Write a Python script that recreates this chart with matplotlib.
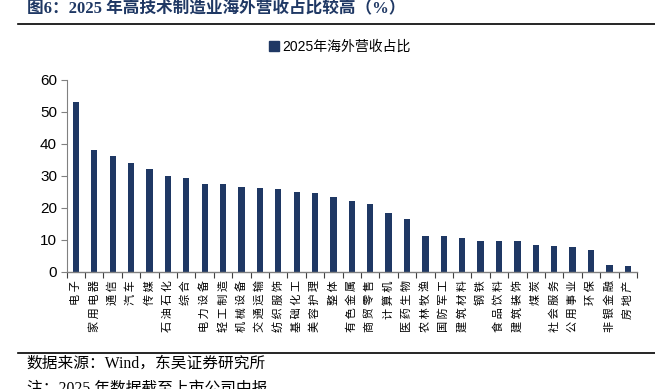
import matplotlib
matplotlib.use('Agg')
import matplotlib.pyplot as plt
from matplotlib.lines import Line2D

plt.rcParams['font.family'] = ['Liberation Sans', 'Noto Sans CJK SC']

# 2025 share of overseas revenue by industry (%)
industries = ['电子', '家用电器', '通信', '汽车', '传媒', '石油石化', '综合', '电力设备',
              '轻工制造', '机械设备', '交通运输', '纺织服饰', '基础化工', '美容护理', '整体',
              '有色金属', '商贸零售', '计算机', '医药生物', '农林牧渔', '国防军工', '建筑材料',
              '钢铁', '食品饮料', '建筑装饰', '煤炭', '社会服务', '公用事业', '环保',
              '非银金融', '房地产']
overseas_share = [53.0, 38.1, 36.4, 34.2, 32.1, 30.0, 29.3, 27.6, 27.5, 26.5, 26.2,
                  25.8, 25.1, 24.6, 23.3, 22.1, 21.1, 18.4, 16.5, 11.4, 11.3, 10.5,
                  9.7, 9.7, 9.6, 8.4, 8.0, 7.7, 6.9, 2.2, 1.8]
y_ticks = [0, 10, 20, 30, 40, 50, 60]

navy = '#1F3864'
cjk_serif = ['Liberation Serif', 'Noto Sans CJK SC']

fig = plt.figure(figsize=(6.55, 3.89), dpi=100)
ax = fig.add_axes([0.1018, 0.3008, 0.8707, 0.4936])

x = range(len(industries))
ax.bar(x, overseas_share, width=0.34, color=navy, zorder=2)

ax.set_xlim(-0.5, len(industries) - 0.5)
ax.set_ylim(0, 60)
ax.set_yticks(y_ticks)
ax.tick_params(axis='y', labelsize=11, length=4, width=0.8, color='#808080', pad=3)

# spaced-out vertical labels, as in the source
spaced = [' '.join(list(name)) for name in industries]
ax.set_xticks(list(x))
ax.set_xticklabels(spaced, rotation=90, fontsize=8, family=['Noto Sans CJK SC'],
                   va='top', ha='center')
ax.set_xticks([i - 0.5 for i in range(len(industries) + 1)], minor=True)
ax.tick_params(axis='x', which='major', length=0, pad=6)
ax.tick_params(axis='x', which='minor', length=4, width=0.8, color='#404040')

for s in ['top', 'right']:
    ax.spines[s].set_visible(False)
ax.spines['left'].set_color('#808080')
ax.spines['bottom'].set_color('#808080')
ax.spines['left'].set_linewidth(0.8)
ax.spines['bottom'].set_linewidth(1.0)

handle = [Line2D([0], [0], marker='s', color='none', markerfacecolor=navy,
                 markeredgecolor=navy, markersize=6.5, label='2025年海外营收占比')]
fig.legend(handles=handle, loc='center', bbox_to_anchor=(0.52, 0.879), frameon=False,
           fontsize=10, handlelength=0.6, handletextpad=0.3)

# title, rules and source
fig.text(0.041, 0.977, '图6：2025 年高技术制造业海外营收占比较高（%）', fontsize=12,
         fontweight='bold', color=navy, family=cjk_serif, va='center', ha='left')
fig.add_artist(Line2D([0.028, 1.0], [0.938, 0.938], color='black', linewidth=1.2))
fig.add_artist(Line2D([0.028, 1.0], [0.093, 0.093], color='black', linewidth=1.2))
fig.text(0.041, 0.064, '数据来源：Wind，东吴证券研究所', fontsize=11.3, family=cjk_serif,
         va='center', ha='left', color='black')
fig.text(0.041, 0.0, '注：2025 年数据截至上市公司中报', fontsize=11.3, family=cjk_serif,
         va='center', ha='left', color='black')

fig.savefig('out.png', dpi=100)
